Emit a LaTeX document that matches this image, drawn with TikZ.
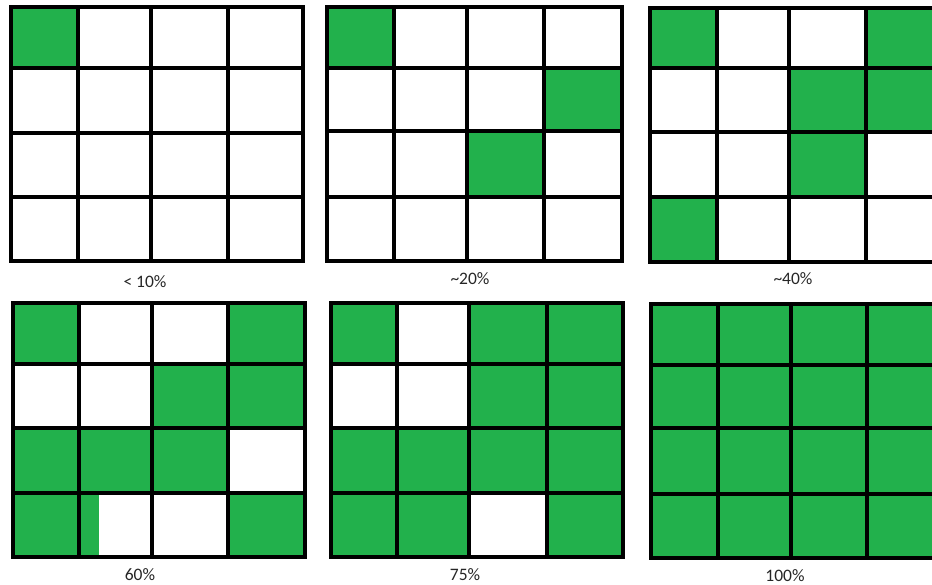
\documentclass[tikz,border=0pt]{standalone}
\usepackage{fontspec}
\setmainfont{Carlito}
\usepackage{tikz}
\usetikzlibrary{positioning}

\definecolor{paintgreen}{RGB}{34,177,76}

% #1 column x's, #2 row y's, #3 filled cells (col/row)
\newcommand{\tilegrid}[3]{%
    \foreach \c/\r in {#3} {
        \pgfmathsetmacro\xa{{#1}[\c]}
        \pgfmathsetmacro\xb{{#1}[\c+1]}
        \pgfmathsetmacro\ya{{#2}[\r]}
        \pgfmathsetmacro\yb{{#2}[\r+1]}
        \fill[cell] (\xa,\ya) rectangle (\xb,\yb);
    }
    \foreach \i in {0,...,4} {
        \pgfmathsetmacro\xi{{#1}[\i]}
        \pgfmathsetmacro\yi{{#2}[\i]}
        \pgfmathsetmacro\xl{{#1}[0]}
        \pgfmathsetmacro\xr{{#1}[4]}
        \pgfmathsetmacro\yt{{#2}[0]}
        \pgfmathsetmacro\yb{{#2}[4]}
        \draw[gridline] (\xi,\yt) -- (\xi,\yb);
        \draw[gridline] (\xl,\yi) -- (\xr,\yi);
    }
}

\begin{document}
\begin{tikzpicture}[
        x=1pt, y=-1pt,
        cell/.style={fill=paintgreen},
        gridline/.style={line width=4.5pt, line cap=rect, black},
        pct/.style={font=\fontsize{17.5}{20}\selectfont, text=black!85, inner sep=0pt},
    ]
    \useasboundingbox (0,0) rectangle (932,585);
    \clip (0,0) rectangle (932,585);

    % top row
    \tilegrid{11,78,151,228,303}{7,68,133,197,261}{0/0}
    \tilegrid{327,394,467,544,622}{7,68,131,197,261}{0/0,3/1,2/2}
    \tilegrid{650,717,789,866,944}{8,68,132,197,262}{0/0,3/0,2/1,3/1,2/2,0/3}

    % bottom row
    \fill[cell] (79,493) rectangle (99,557);
    \tilegrid{13,79,152,228,305}{303,364,428,493,557}{0/0,3/0,2/1,3/1,0/2,1/2,2/2,0/3,3/3}
    \tilegrid{331,397,469,547,623}{303,364,428,493,557}{0/0,2/0,3/0,2/1,3/1,0/2,1/2,2/2,3/2,0/3,1/3,3/3}
    \tilegrid{651,718,791,867,944}{304,365,428,494,558}{0/0,1/0,2/0,3/0,0/1,1/1,2/1,3/1,0/2,1/2,2/2,3/2,0/3,1/3,2/3,3/3}

    \node[pct] (lab10) at (145,282) {< 10\%};
    \node[pct] (lab20) at (470,279) {\textasciitilde 20\%};
    \node[pct] (lab40) at (793,279) {\textasciitilde 40\%};
    \node[pct] (lab60) at (140,575) {60\%};
    \node[pct] (lab75) at (465,575) {75\%};
    \node[pct] (lab100) at (785,576) {100\%};
\end{tikzpicture}
\end{document}
